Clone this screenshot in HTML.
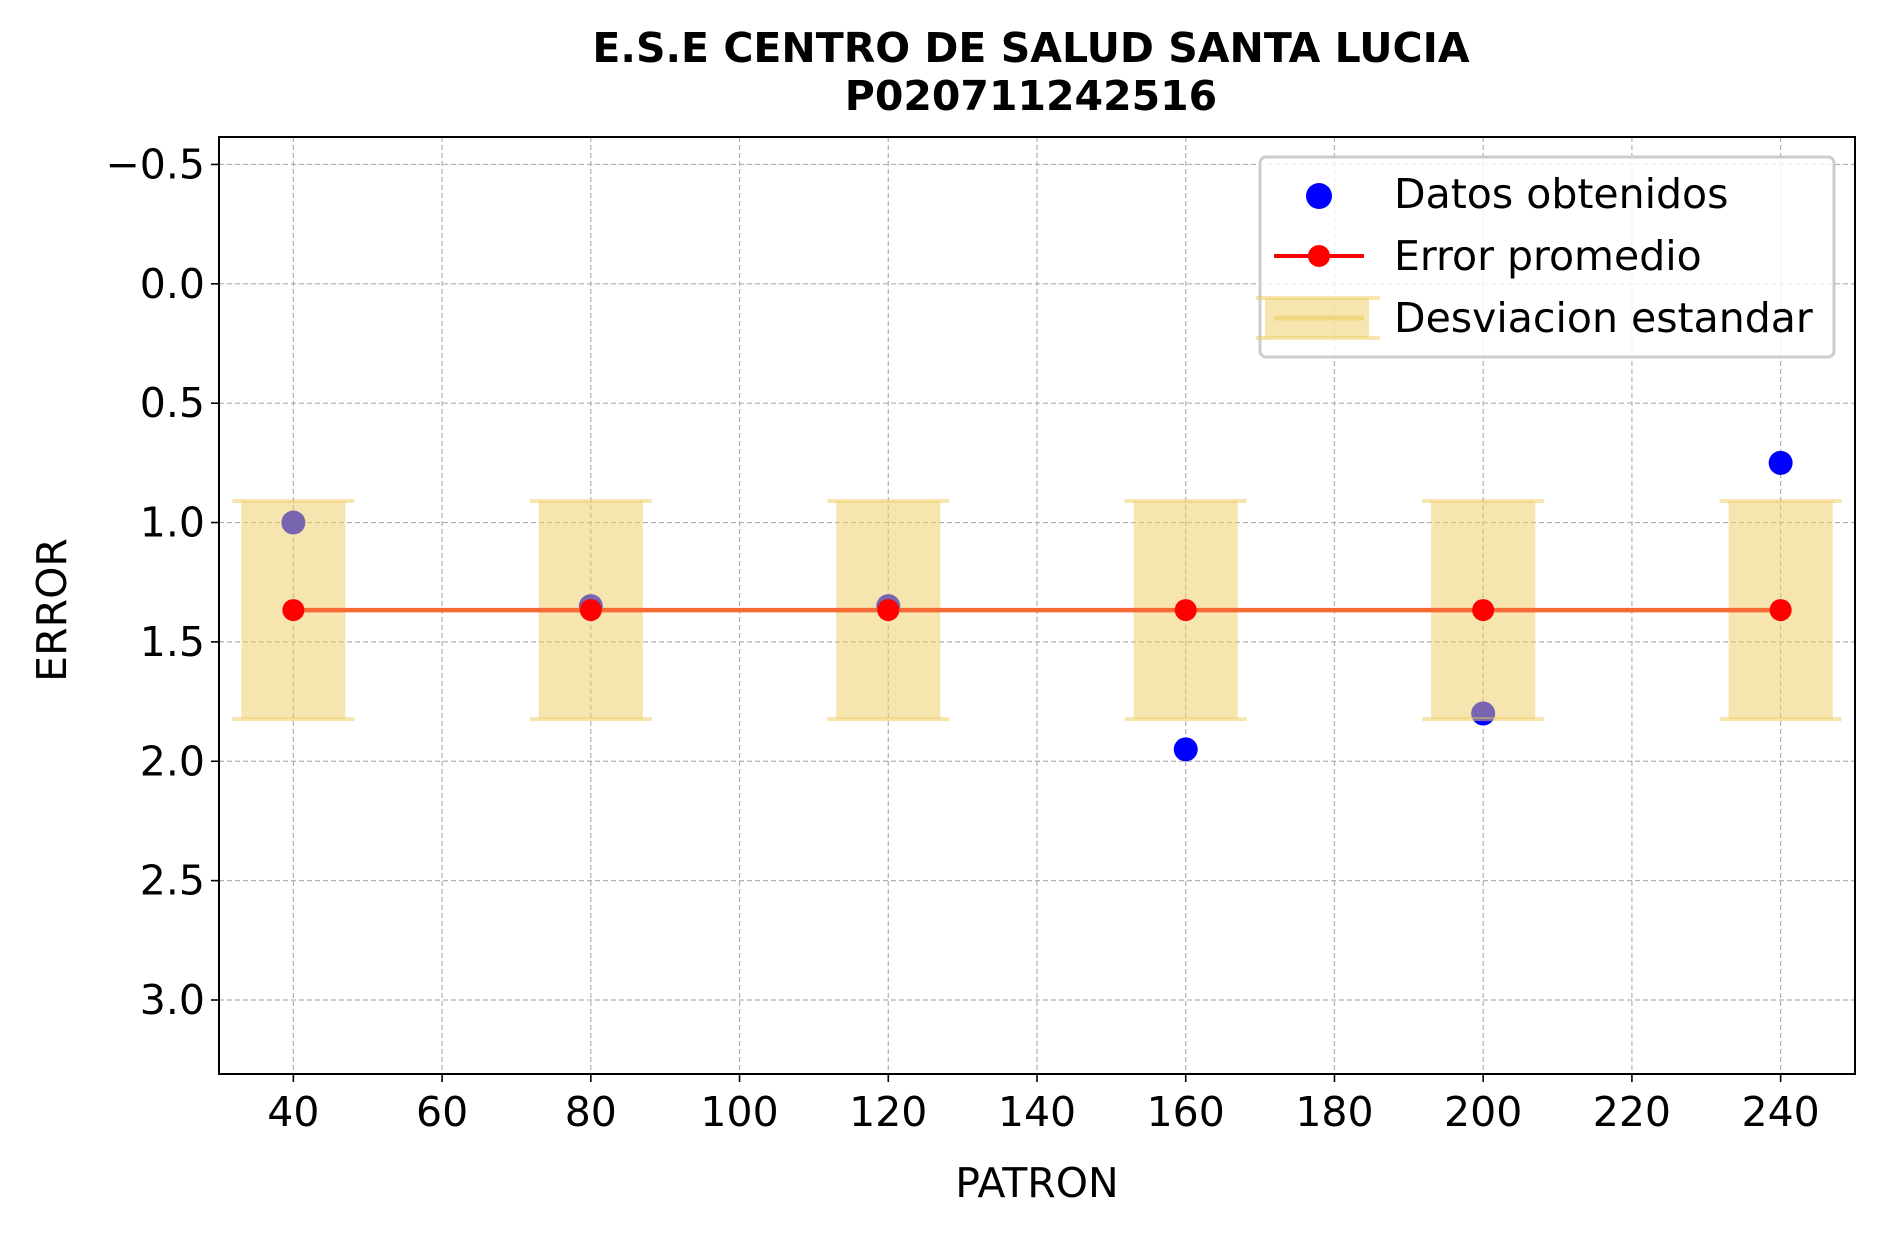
<!DOCTYPE html>
<html><head><meta charset="utf-8"><style>
html,body{margin:0;padding:0;background:#fff;}
svg{display:block;font-family:"DejaVu Sans","Liberation Sans",sans-serif;}
</style></head><body>
<svg id="chart" width="1885" height="1236" viewBox="0 0 1885 1236">
<text x="1031" y="62" text-anchor="middle" font-size="41" font-weight="bold">E.S.E CENTRO DE SALUD SANTA LUCIA</text>
<text x="1031" y="110" text-anchor="middle" font-size="41" font-weight="bold">P020711242516</text>
<g id="grid"></g><g id="marks"></g><g id="axes"></g>
<text x="1037" y="1197" text-anchor="middle" font-size="41">PATRON</text>
<text transform="translate(66,610) rotate(-90)" text-anchor="middle" font-size="41">ERROR</text>
<g>
<rect x="1260" y="157" width="574" height="200" rx="6" fill="rgba(255,255,255,0.8)" stroke="#ccc" stroke-width="3"/>
<circle cx="1319" cy="196" r="13" fill="#0000ff"/>
<text x="1394" y="208" font-size="41">Datos obtenidos</text>
<line x1="1274" y1="256" x2="1364" y2="256" stroke="#ff0000" stroke-width="4"/>
<circle cx="1319" cy="256" r="11" fill="#ff0000"/>
<text x="1394" y="270" font-size="41">Error promedio</text>
<rect x="1265" y="298" width="104" height="40" fill="rgba(238,203,96,0.5)"/>
<line x1="1256" y1="298" x2="1380" y2="298" stroke="rgba(238,203,96,0.5)" stroke-width="4"/>
<line x1="1256" y1="338" x2="1380" y2="338" stroke="rgba(238,203,96,0.5)" stroke-width="4"/>
<line x1="1274" y1="318" x2="1364" y2="318" stroke="rgba(238,203,96,0.6)" stroke-width="5"/>
<text x="1394" y="332" font-size="41">Desviacion estandar</text>
</g>
</svg>
<script>
const categories = [40, 80, 120, 160, 200, 240];
const errorValues = [1.0, 1.35, 1.35, 1.95, 1.80, 0.75];
const xTicks = [40, 60, 80, 100, 120, 140, 160, 180, 200, 220, 240];
const yTicks = [-0.5, 0.0, 0.5, 1.0, 1.5, 2.0, 2.5, 3.0];
const yTickLabels = ["\u22120.5", "0.0", "0.5", "1.0", "1.5", "2.0", "2.5", "3.0"];

const L = 219, R = 1855, T = 137, B = 1074;
const xMin = 30, xMax = 250, yTop = -0.615, yBot = 3.31;
const X = v => L + (v - xMin) / (xMax - xMin) * (R - L);
const Y = v => T + (v - yTop) / (yBot - yTop) * (B - T);
const NS = "http://www.w3.org/2000/svg";
function mk(tag, attrs, parent) {
  const e = document.createElementNS(NS, tag);
  for (const k in attrs) e.setAttribute(k, attrs[k]);
  parent.appendChild(e); return e;
}
const grid = document.getElementById('grid'), marks = document.getElementById('marks'), axes = document.getElementById('axes');

xTicks.forEach(t => {
  const g = mk('line', {x1: X(t), x2: X(t), y1: T, y2: B, stroke: '#b0b0b0', 'stroke-width': 1.2, 'stroke-dasharray': '5,3'}, grid);
  
  
  const tk = mk('line', {x1: X(t), x2: X(t), y1: B, y2: B + 8, stroke: '#000', 'stroke-width': 1.6}, axes);
  
  
  const lb = mk('text', {x: X(t), y: B + 52, 'text-anchor': 'middle', 'font-size': 41}, axes);
  lb.textContent = t;
  
  
});
yTicks.forEach((t, i) => {
  const g = mk('line', {x1: L, x2: R, y1: Y(t), y2: Y(t), stroke: '#b0b0b0', 'stroke-width': 1.2, 'stroke-dasharray': '5,3'}, grid);
  
  
  const tk = mk('line', {x1: L - 8, x2: L, y1: Y(t), y2: Y(t), stroke: '#000', 'stroke-width': 1.6}, axes);
  
  
  const lb = mk('text', {x: L - 14, y: Y(t) + 14, 'text-anchor': 'end', 'font-size': 41}, axes);
  lb.textContent = yTickLabels[i];
  
  
});
const frame = mk('rect', {x: L, y: T, width: R - L, height: B - T, fill: 'none', stroke: '#000', 'stroke-width': 2}, axes);



const mean = errorValues.reduce((a, b) => a + b, 0) / errorValues.length;
const sd = Math.sqrt(errorValues.reduce((a, b) => a + (b - mean) ** 2, 0) / (errorValues.length - 1));

categories.forEach((c, i) => {
  const p = mk('circle', {cx: X(c), cy: Y(errorValues[i]), r: 12, fill: '#0000ff'}, marks);
  
  
});
categories.forEach(c => {
  const b = mk('rect', {x: X(c - 7), y: Y(mean - sd), width: X(c + 7) - X(c - 7), height: Y(mean + sd) - Y(mean - sd), fill: 'rgba(238,203,96,0.5)'}, marks);
  
  
  [mean - sd, mean + sd].forEach(v => {
    const cap = mk('line', {x1: X(c - 8.2), x2: X(c + 8.2), y1: Y(v), y2: Y(v), stroke: 'rgba(238,203,96,0.5)', 'stroke-width': 4}, marks);
    
    
  });
});
const ml = mk('line', {x1: X(categories[0]), x2: X(categories[categories.length - 1]), y1: Y(mean), y2: Y(mean), stroke: '#f86a35', 'stroke-width': 4.5}, marks);


categories.forEach(c => {
  const m = mk('circle', {cx: X(c), cy: Y(mean), r: 11, fill: '#ff0000'}, marks);
  
  
});
</script>
</body></html>
